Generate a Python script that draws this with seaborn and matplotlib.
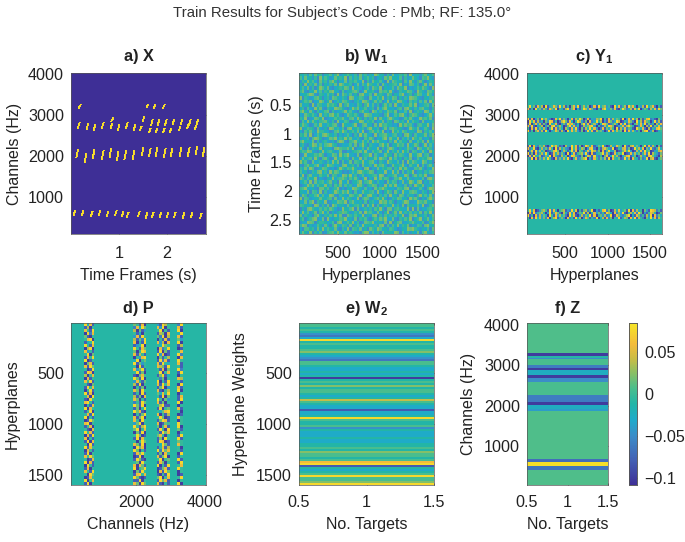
import numpy as np
import pandas as pd
import matplotlib
matplotlib.use('Agg')
import matplotlib.pyplot as plt
from matplotlib.colors import LinearSegmentedColormap
import seaborn as sns

# Panel a) onsets: time (s) and channel (Hz) of each stroke
low_times = [.06, .23, .42, .58, .75, .92, 1.06, 1.17, 1.40, 1.56, 1.69, 1.85, 2.00, 2.15, 2.33, 2.50, 2.69]
low_freqs = [600, 590, 580, 590, 580, 590, 570, 560, 570, 540, 550, 550, 560, 550, 540, 550, 530]
mid_times = [.12, .29, .46, .65, .81, .96, 1.12, 1.29, 1.48, 1.63, 1.77, 1.94, 2.08, 2.27, 2.44, 2.60, 2.75]
mid_freqs = [2060, 1950, 2050, 2020, 2070, 2000, 2020, 2020, 2110, 2080, 2100, 2070, 2080, 2100, 2100, 2130, 2100]
upper_times = [.15, .33, .48, .65, .83, .98, 1.15, 1.31, 1.50, 1.67, 1.81, 1.96, 2.12, 2.29, 2.46, 2.62]
upper_freqs = [2740, 2716, 2690, 2740, 2730, 2690, 2740, 2700, 2900, 2810, 2820, 2810, 2830, 2830, 2810, 2830]
lower_times = [1.44, 1.63, 1.77, 1.92, 2.06, 2.25, 2.42, 2.58]
lower_freqs = [2670, 2620, 2620, 2620, 2620, 2670, 2720, 2700]
top_times = [.17, 1.58, 1.73, 1.92]
top_freqs = [3210, 3230, 3210, 3210]
extra_times = [.85]
extra_freqs = [2890]

# Panel b) texture typed by eye (levels 0-9): the cells cannot be read one by one
w1_rows = [
    "546273856145736924575361846253974516283465719345268457",
    "738452619475238564917364825746135286945371624853176942",
    "264957318462795143826574391628547319286451739526841365",
    "519364827153648297456138274965371842567391428736159284",
    "473826159748213565872946315728649153472865913247586319",
    "682145937265894317245786139456218675931264587319642875",
    "345798216537461928637251894371956428615379246158734962",
    "916423785146287536419835762184375926487152639874215367",
    "257681349725913648752146398625847139264985317462738195",
    "834519276348675192683427516937261584719326458591346728",
    "461732958216439875214968357246183795342671895263784516",
    "795284163578162346957321684519736248658143729146529837",
    "328657419364895721386574129873452169237589416875213694",
    "649123875912347568427839516264918537964312758423967581",
    "173948526785261934761245983657134826518746293754182346",
    "586312749436578219534691278341829675423195867316745928",
    "924765183251984637189357462795361482786452139648237519",
    "317584296643127859625748391268574913195738624529816473",
    "658291374897536142473162958431926785367241895173458269",
    "243617985124879365958436217586143792854916372964723518",
    "795438162563241798216795384729685431629374518237581946",
    "462159837378965124347281695164327958145867293586149273",
    "831726459254318976685914372853491627973152486419735862",
    "576983214946752381132567849327568149264839571762384195",
    "129345768613487295794328156691742385518476329358926714",
    "384672951785129463561843927245839761937251648127465893",
    "957218346426395817248176593578316429643728195864397251",
    "216854793159763428935627184362957841285469317539172684",
    "648397125874231596476952318914283657716395842276841539",
    "735126489362958741213748965687145392394817265913526478",
    "491683527548176239859361472356729814568243971684759123",
    "862745913215493678627584139142938576127695384245371896",
    "357291846736825194381457926795263418476138259738914265",
    "124968375493617582746239851568714293859342716196582437",
    "679435218857246913153986427231857964342765891524731698",
    "543817629162359748694172385467293158618529437873264159",
    "286154793734982165328756914895416372935187264416957382",
    "917623458546718239475239168723685941264873519685142796",
    "438279165391254876916843527156329784751436982239768451",
    "765341982628197354283567491849172563493628175547391268",
    "152896437475863129547918236362759418826754391918243675",
    "394725816937142568752364819674283159158293647364817592",
    "826531794264759381186475392538916274647359128792536148",
    "571468923819325476934281657215748693382164759146925837",
    "243987156653471892475936128769354281915782346853471269",
    "698142375284169537628157394543628917274936581327618945",
    "317756284947538216391764825186497352763125498964253718",
    "485291637126784953856423179927361845549817362538179426",
]

# Panel c) coloured bands: top channel (Hz) of each band, then its rows of levels
y1_band_tops = [3260, 2956, 2258, 672]
y1_band_1 = [
    "5946185709145862947150683915746028194673510948257196840537194682051",
    "8150946275186390541792680415973862051794362810596247185903651748296",
]
y1_band_2 = [
    "9180361957420185926304817596028143769051827465190382947061589231064",
    "0958172406398150279618405973160824957031862497015386209471865039271",
    "1905837162094581036297851406928157304986125740839162057483916250748",
    "8291045703618925740169382501746893051274986013582796401385072916483",
    "5081926473059182640751839206174958302816475091738265109648207153896",
    "9150682719403586172094857316029481756302918475609183742506891370145",
]
y1_band_3 = [
    "1908426571039685120743958160297481365920174386509217846305918274061",
    "8259104736285091746320958147603892051786429015378260195748063921584",
    "0581937460125896037514928065148397260815943701268593017482956013478",
    "9160825739401857263090481567392081456927301846590128374615829075316",
    "0819547126390852174603985216048719325068149572036891460273518964207",
    "5290816374951082637491058236790418526371908546129370854162390781046",
]
y1_band_4 = [
    "5948013675192840567132948051672590314892601748356190827450631987251",
    "0819256740391586207419380265917048362519740826391057482960315874016",
    "9150827364095183746209581037264918056372490186325790418625173908264",
    "5081947362805791463082519470386152904718260539147608391752064938175",
]

# Panel d) coloured columns: left channel (Hz) and width in cells of each strip
p_band_lefts = [498, 1932, 2615, 3171]
p_band_cols = [4, 5, 5, 2]
p_rows = [
    "9481651803197529", "1705284968390581", "8519706135905190", "0928514051760849",
    "6105381956290781", "5890716290518163", "1459805198370890", "9518135905496517",
    "0790951860825901", "8351605981906158", "5906817519380192", "1859053890615708",
    "9015490561928195", "0681916358195481", "8196509158761951", "5019836915180692",
    "1980591605905819", "7058106851691405", "0815961905260587", "8591385169051951",
    "5106719058195809", "1958051601690381", "0591860958105790", "9180150916485905",
    "5809716085190618", "1095860519506319", "8951251968160590", "0518961905791105",
    "9085160591905681", "1590968105468950", "5819051698051701", "9051816905960185",
    "0196850951698105", "8905369058016595", "1580951796058190", "5108690581950961",
    "9581061905196805", "0819596016850519", "8051190851609591", "1908505961980165",
    "5091861905496185", "9185096801581750", "0851960519296851", "1905186951608509",
    "8596019058169015", "5018196105905691", "9081560951860519", "0951808619051958",
    "1805905690168195", "8519061950819605", "5096189581051901", "0185961016905859",
    "9058119051968105", "1905860968105190",
]

# Panel e) stripes from top to bottom (levels 0-10)
w2_levels = [6, 6, 5, 6, 5, 3, 2, 4, 10, 5, 6, 5, 5, 6, 7, 5, 4, 3, 2, 6, 6, 5, 4, 4, 5, 4, 5,
             0, 5, 6, 5, 7, 5, 6, 6, 5, 4, 5, 8, 6, 5, 4, 4, 1, 4, 4, 5, 10, 6, 5, 5, 6, 3, 5,
             4, 4, 4, 5, 4, 4, 5, 5, 6, 5, 7, 6, 6, 5, 6, 9, 10, 1, 5, 4, 5, 6, 10, 6, 6, 7, 10]

# Panel f) stripes from top to bottom: value and how many rows it spans
z_values = [.008, -.1, -.01, -.05, .006, -.06, -.1, -.025, -.1, -.05, .006, -.06, -.1,
            -.025, -.04, .008, -.07, .08, -.065, .008]
z_rows = [30, 3, 2, 1, 6, 3, 2, 5, 3, 4, 13, 7, 2, 4, 2, 48, 3, 4, 4, 15]

cbar_ticks = [.05, 0, -.05, -.1]
cbar_labels = ['0.05', '0', '\u22120.05', '\u22120.1']

parula = LinearSegmentedColormap.from_list('parula', [
    (0, '#3E2F96'), (.15, '#4460B4'), (.3, '#3C8CC8'), (.4, '#1FAACB'), (.5, '#22B5A8'),
    (.6, '#4CBE8C'), (.7, '#8FBF62'), (.78, '#C9BC46'), (.87, '#F4BC3C'), (1, '#F6E626')])

sns.set_theme(style='white')
plt.rcParams['font.family'] = ['Liberation Sans', 'DejaVu Sans']
plt.rcParams['mathtext.fontset'] = 'custom'
plt.rcParams['mathtext.bf'] = 'Liberation Sans:bold'
plt.rcParams['mathtext.rm'] = 'Liberation Sans'

W, H = 685, 542
fig = plt.figure(figsize=(W / 100, H / 100), dpi=100)


def panel(x0, y0, x1, y1):
    return fig.add_axes([x0 / W, 1 - y1 / H, (x1 - x0) / W, (y1 - y0) / H])


def cell(v, lo, hi, n):
    return (v - lo) / (hi - lo) * n


def finish(ax, title, xlabel, ylabel, xt, yt, xpad=9, lpad=5, ylpad=4, tpad=9):
    ax.set_xticks([p for p, _ in xt])
    ax.set_xticklabels([s for _, s in xt], rotation=0)
    ax.set_yticks([p for p, _ in yt])
    ax.set_yticklabels([s for _, s in yt], rotation=0)
    ax.tick_params(axis='x', direction='in', length=1.5, width=.5, color='#333333',
                   labelsize=11.6, pad=xpad, labelcolor='#222222', top=True, bottom=True)
    ax.tick_params(axis='y', direction='in', length=1.5, width=.5, color='#333333',
                   labelsize=11.6, pad=5, labelcolor='#222222', left=True, right=True)
    ax.set_xlabel(xlabel, fontsize=11.5, color='#222222', labelpad=lpad)
    ax.set_ylabel(ylabel, fontsize=11.5, color='#222222', labelpad=ylpad)
    ax.set_title(title, fontsize=11.7, fontweight='bold', color='#222222', pad=tpad)
    for s in ax.spines.values():
        s.set_visible(True)
        s.set_linewidth(.5)
        s.set_color('#555555')


def levels(rows, width):
    return np.array([[int(c) for c in r.ljust(width, '5')[:width]] for r in rows], dtype=float)


def heat(ax, data, **kw):
    sns.heatmap(pd.DataFrame(data), ax=ax, cmap=parula, cbar=kw.pop('cbar', False),
                xticklabels=False, yticklabels=False, **kw)


# a) X
nf, nt = 161, 135
f_lo, f_hi = 86, 4030
t_lo, t_hi = 0, 2.81
x_mat = np.zeros((nf, nt))
stroke_sets = [(low_times, low_freqs, 125), (mid_times, mid_freqs, 210), (upper_times, upper_freqs, 140),
               (lower_times, lower_freqs, 100), (top_times, top_freqs, 80), (extra_times, extra_freqs, 80)]
for times, freqs, height in stroke_sets:
    for t, f in zip(times, freqs):
        for k in np.linspace(0, 1, 12):
            col = int(cell(t + .035 * (k - .5), t_lo, t_hi, nt))
            row = int(cell(f_hi - (f + height * (k - .5)), 0, f_hi - f_lo, nf))
            x_mat[row, col] = 1
            x_mat[row, col + 1] = max(x_mat[row, col + 1], .92)
ax = panel(71, 73, 206, 234)
heat(ax, x_mat, vmin=0, vmax=1)
freq_ticks = [(cell(f_hi - v, 0, f_hi - f_lo, nf), str(v)) for v in [4000, 3000, 2000, 1000]]
finish(ax, 'a) X', 'Time Frames (s)', 'Channels (Hz)',
       [(cell(v, t_lo, t_hi, nt), str(v)) for v in [1, 2]], freq_ticks)

# b) W1
w1 = levels(w1_rows, 54)
ax = panel(299, 73, 434, 234)
heat(ax, w1, vmin=-5.5, vmax=15.5)
finish(ax, r'$\mathbf{b)\ W_1}$', 'Hyperplanes', 'Time Frames (s)',
       [(cell(v, 35, 1640, w1.shape[1]), str(v)) for v in [500, 1000, 1500]],
       [(cell(v, -.05, 2.74, w1.shape[0]), s) for v, s in
        [(.5, '0.5'), (1, '1'), (1.5, '1.5'), (2, '2'), (2.5, '2.5')]])

# c) Y1
y1 = np.full((65, 67), 4.6)
for top, band in zip(y1_band_tops, [y1_band_1, y1_band_2, y1_band_3, y1_band_4]):
    start = int(round(cell(f_hi - top, 0, f_hi - f_lo, 65)))
    y1[start:start + len(band)] = levels(band, 67)
ax = panel(527, 73, 662, 234)
heat(ax, y1, vmin=-.5, vmax=9.5)
finish(ax, r'$\mathbf{c)\ Y_1}$', 'Hyperplanes', 'Channels (Hz)',
       [(cell(v, 50, 1640, 67), str(v)) for v in [500, 1000, 1500]],
       [(cell(f_hi - v, 0, f_hi - f_lo, 65), str(v)) for v in [4000, 3000, 2000, 1000]], ylpad=5.5)

# d) P
p = np.full((54, 52), 4.6)
p_src = levels(p_rows, 16)
c0 = 0
for left, width in zip(p_band_lefts, p_band_cols):
    start = int(round(cell(left, 88, 4030, 52)))
    p[:, start:start + width] = p_src[:, c0:c0 + width]
    c0 += width
ax = panel(71, 323, 206, 485)
heat(ax, p, vmin=-.5, vmax=9.5)
hyper_ticks = [500, 1000, 1500]
finish(ax, 'd) P', 'Channels (Hz)', 'Hyperplanes',
       [(cell(v, 88, 4030, 52), str(v)) for v in [2000, 4000]],
       [(cell(v, 10, 1598, 54), str(v)) for v in hyper_ticks], xpad=7, ylpad=6, tpad=7.5)

# e) W2
ax = panel(299, 323, 434, 485)
heat(ax, np.array(w2_levels, dtype=float).reshape(-1, 1), vmin=-.5, vmax=10.5)
target_ticks = [(0, '0.5'), (.5, '1'), (1, '1.5')]
finish(ax, r'$\mathbf{e)\ W_2}$', 'No. Targets', 'Hyperplane Weights', target_ticks,
       [(cell(v, 10, 1598, len(w2_levels)), str(v)) for v in hyper_ticks], xpad=7, ylpad=6, tpad=7.5)

# f) Z
z = np.repeat(z_values, z_rows).reshape(-1, 1)
ax = panel(527, 323, 608, 485)
cax = panel(629, 323, 637, 485)
heat(ax, z, vmin=-.108, vmax=.0845, cbar=True, cbar_ax=cax)
finish(ax, 'f) Z', 'No. Targets', 'Channels (Hz)', target_ticks,
       [(cell(4040 - v, 0, 4000, len(z)), str(v)) for v in [4000, 3000, 2000, 1000]], xpad=7, ylpad=5.5, tpad=7.5)
cax.set_yticks(cbar_ticks)
cax.set_yticklabels(cbar_labels)
cax.tick_params(direction='in', length=1.5, width=.5, labelsize=11.6, pad=5, labelcolor='#222222', right=True)
for s in cax.spines.values():
    s.set_visible(True)
    s.set_linewidth(.5)
    s.set_color('#555555')

fig.text(342 / W, 1 - 13.5 / H, "Train Results for Subject\u2019s Code : PMb; RF: 135.0\u00b0",
         ha='center', va='center', fontsize=10.8, color='#333333')

fig.savefig('out.png', dpi=100)
